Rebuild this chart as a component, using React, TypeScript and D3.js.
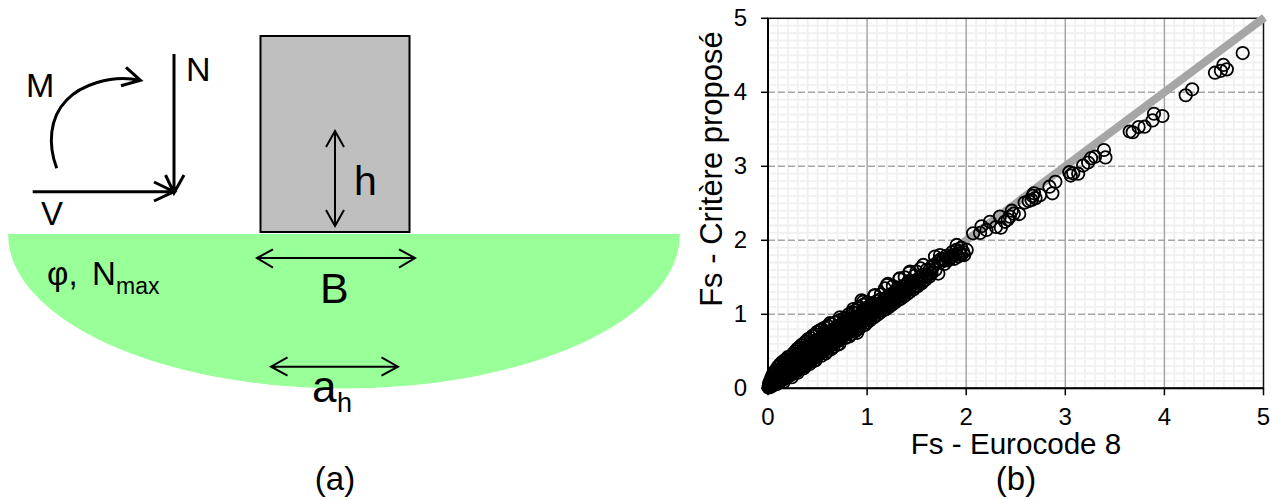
import React from "react";
import * as d3 from "d3";

const axisTicks = [0, 1, 2, 3, 4, 5];
const minorTicks = [
  0.1, 0.2, 0.3, 0.4, 0.5, 0.6, 0.7, 0.8, 0.9, 1.1, 1.2, 1.3, 1.4, 1.5, 1.6, 1.7, 1.8, 1.9, 2.1, 2.2, 2.3, 2.4, 2.5,
  2.6, 2.7, 2.8, 2.9, 3.1, 3.2, 3.3, 3.4, 3.5, 3.6, 3.7, 3.8, 3.9, 4.1, 4.2, 4.3, 4.4, 4.5, 4.6, 4.7, 4.8, 4.9,
];
const referenceLine: [number, number][] = [[0, 0], [5.01, 5.01]];

const upperPoints: [number, number][] = [
  [4.79, 4.53], [4.595, 4.37], [4.63, 4.31], [4.57, 4.29], [4.51, 4.265], [4.28, 4.04], [4.215, 3.96], [3.98, 3.68],
  [3.895, 3.71], [3.88, 3.62], [3.8, 3.535], [3.74, 3.53], [3.68, 3.46], [3.65, 3.47], [3.39, 3.22], [3.405, 3.12],
  [3.3, 3.13], [3.26, 3.11], [3.23, 3.05], [3.18, 3.01], [3.13, 2.9], [3.08, 2.905], [3.04, 2.92], [3.055, 2.875],
  [2.9, 2.79], [2.84, 2.725], [2.87, 2.635], [2.745, 2.61], [2.685, 2.635], [2.66, 2.545], [2.59, 2.51], [2.7, 2.57],
  [2.535, 2.355], [2.46, 2.4], [2.44, 2.32], [2.39, 2.25], [2.34, 2.32], [2.3, 2.18], [2.24, 2.25], [2.155, 2.19],
  [2.07, 2.095], [2.205, 2.14], [2.14, 2.1], [2.35, 2.17], [2.48, 2.36], [2.63, 2.53], [2.67, 2.6], [2.42, 2.28],
];

const middlePoints: [number, number][] = [
  [2.005, 1.87], [1.904, 1.937], [1.736, 1.8], [1.685, 1.78], [1.836, 1.755], [1.937, 1.824], [1.719, 1.55],
  [1.567, 1.667], [1.5, 1.577], [1.433, 1.577], [1.33, 1.486], [1.21, 1.41], [1.18, 1.35], [1.08, 1.26], [0.945, 1.19],
  [1.98, 1.8], [1.95, 1.9], [1.89, 1.8], [1.86, 1.84], [1.8, 1.79], [1.77, 1.74], [1.72, 1.72], [1.9, 1.87],
  [1.66, 1.66], [1.64, 1.56], [1.6, 1.6], [1.58, 1.5], [1.54, 1.62], [1.52, 1.47], [1.48, 1.52], [1.46, 1.4],
  [1.42, 1.45], [1.4, 1.32], [1.38, 1.5], [1.36, 1.38], [1.34, 1.25], [1.3, 1.33], [1.28, 1.21], [1.26, 1.38],
  [1.24, 1.27], [1.22, 1.15], [1.19, 1.22], [1.16, 1.1], [1.14, 1.27], [1.12, 1.05], [1.1, 1.18], [1.06, 1.0],
  [1.04, 1.13], [1.02, 0.95], [1.0, 1.16], [0.98, 1.05],
  [0.727, 0.96], [0.86, 1.07], [0.96, 1.17], [1.07, 1.25], [1.2, 1.395], [1.325, 1.477], [1.426, 1.56], [0.625, 0.88],
];

const lowerEdgePoints: [number, number][] = [
  [0.16, 0.09], [0.24, 0.15], [0.3, 0.21], [0.36, 0.27], [0.42, 0.33], [0.48, 0.38], [0.54, 0.44], [0.6, 0.5],
  [0.66, 0.56], [0.72, 0.6], [0.78, 0.68], [0.84, 0.73], [0.9, 0.79], [0.96, 0.85], [1.0, 0.89], [1.03, 0.92],
  [1.07, 0.96], [1.1, 0.99], [1.13, 1.02], [1.16, 1.05], [1.19, 1.07], [1.22, 1.1], [1.25, 1.13], [1.28, 1.16],
  [1.31, 1.19], [1.34, 1.21], [1.37, 1.24], [1.4, 1.27], [1.43, 1.3], [1.47, 1.34], [1.51, 1.38], [1.55, 1.42],
  [1.59, 1.47], [1.63, 1.51], [1.46, 1.36], [1.5, 1.44], [1.56, 1.53], [1.67, 1.65], [1.74, 1.7], [1.79, 1.73],
  [1.84, 1.78], [1.93, 1.85], [1.97, 1.84], [1.03, 1.02], [1.09, 1.08], [1.15, 1.16], [1.21, 1.24], [1.27, 1.29],
  [1.33, 1.32], [1.39, 1.4], [1.11, 1.12], [1.17, 1.2], [1.23, 1.19], [1.29, 1.26], [1.35, 1.29], [1.41, 1.36],
  [1.01, 1.03], [1.05, 1.08], [1.18, 1.13], [1.25, 1.24], [1.31, 1.36], [1.37, 1.33], [1.44, 1.4], [1.49, 1.46],
];

const densePoints: [number, number][] = [
  [0.005, 0.01], [0.01, 0.03], [0.01, 0.06], [0.015, 0.02], [0.02, 0.09], [0.02, 0.04], [0.03, 0.13], [0.03, 0.02],
  [0.035, 0.07], [0.04, 0.16], [0.04, 0.1], [0.05, 0.04], [0.05, 0.19], [0.055, 0.13], [0.06, 0.08], [0.065, 0.22],
  [0.07, 0.05], [0.075, 0.16], [0.08, 0.25], [0.085, 0.1], [0.09, 0.06], [0.095, 0.2], [0.1, 0.29], [0.105, 0.13],
  [0.11, 0.08], [0.115, 0.24], [0.12, 0.32], [0.125, 0.17], [0.13, 0.1], [0.135, 0.27], [0.14, 0.35], [0.145, 0.2],
  [0.15, 0.12], [0.155, 0.3], [0.16, 0.37], [0.165, 0.23], [0.17, 0.13], [0.175, 0.33], [0.18, 0.39], [0.185, 0.26],
  [0.19, 0.15], [0.195, 0.36], [0.2, 0.42], [0.205, 0.29], [0.21, 0.17], [0.215, 0.38], [0.22, 0.22], [0.225, 0.33],
  [0.23, 0.18], [0.235, 0.44], [0.24, 0.27], [0.245, 0.4], [0.25, 0.2], [0.255, 0.47], [0.26, 0.31], [0.265, 0.37],
  [0.27, 0.22], [0.275, 0.5], [0.28, 0.27], [0.285, 0.43], [0.29, 0.23], [0.295, 0.53], [0.3, 0.34], [0.305, 0.47],
  [0.31, 0.26], [0.315, 0.55], [0.32, 0.3], [0.325, 0.41], [0.33, 0.28], [0.335, 0.58], [0.34, 0.36], [0.345, 0.5],
  [0.35, 0.3], [0.355, 0.6], [0.36, 0.4], [0.365, 0.53], [0.37, 0.33], [0.375, 0.46], [0.38, 0.63], [0.385, 0.37],
  [0.39, 0.55], [0.395, 0.34], [0.4, 0.66], [0.405, 0.43], [0.41, 0.5], [0.415, 0.36], [0.42, 0.6], [0.425, 0.4],
  [0.43, 0.68], [0.435, 0.46], [0.44, 0.55], [0.445, 0.39], [0.45, 0.71], [0.455, 0.5], [0.46, 0.62], [0.465, 0.42],
  [0.47, 0.46], [0.475, 0.73], [0.48, 0.56], [0.485, 0.43], [0.49, 0.5], [0.495, 0.76], [0.5, 0.65], [0.505, 0.45],
  [0.51, 0.54], [0.515, 0.48], [0.52, 0.78], [0.525, 0.6], [0.53, 0.47], [0.535, 0.68], [0.54, 0.51], [0.545, 0.8],
  [0.55, 0.56], [0.555, 0.5], [0.56, 0.63], [0.565, 0.71], [0.57, 0.52], [0.575, 0.82], [0.58, 0.58], [0.585, 0.54],
  [0.59, 0.66], [0.595, 0.74], [0.6, 0.55], [0.605, 0.84], [0.61, 0.6], [0.615, 0.57], [0.62, 0.69], [0.625, 0.77],
  [0.63, 0.58], [0.635, 0.63], [0.64, 0.87], [0.645, 0.6], [0.65, 0.72], [0.655, 0.66], [0.66, 0.61], [0.665, 0.8],
  [0.67, 0.68], [0.675, 0.63], [0.68, 0.89], [0.685, 0.75], [0.69, 0.65], [0.695, 0.7], [0.7, 0.84], [0.705, 0.64],
  [0.71, 0.78], [0.715, 0.67], [0.72, 0.72], [0.725, 0.92], [0.73, 0.68], [0.735, 0.81], [0.74, 0.74], [0.745, 0.7],
  [0.75, 0.87], [0.755, 0.72], [0.76, 0.77], [0.765, 0.71], [0.77, 0.95], [0.775, 0.83], [0.78, 0.73], [0.785, 0.79],
  [0.79, 0.75], [0.795, 0.89], [0.8, 0.74], [0.805, 0.82], [0.81, 0.77], [0.815, 1.0], [0.82, 0.76], [0.825, 0.85],
  [0.83, 0.79], [0.835, 0.92], [0.84, 0.78], [0.845, 0.82], [0.85, 1.03], [0.855, 0.8], [0.86, 0.87], [0.865, 0.83],
  [0.87, 0.95], [0.875, 0.81], [0.88, 0.85], [0.885, 1.05], [0.89, 0.83], [0.895, 0.9], [0.9, 0.87], [0.905, 1.08],
  [0.91, 0.85], [0.915, 0.92], [0.92, 1.1], [0.925, 0.87], [0.93, 0.98], [0.935, 0.9], [0.94, 0.88], [0.95, 1.03],
  [0.955, 0.93], [0.96, 0.9], [0.965, 1.13], [0.97, 0.96], [0.975, 0.92],
  [0.12, 0.21], [0.18, 0.2], [0.22, 0.3], [0.26, 0.24], [0.3, 0.4], [0.34, 0.44], [0.38, 0.3], [0.42, 0.48],
  [0.46, 0.37], [0.5, 0.58], [0.54, 0.61], [0.58, 0.47], [0.62, 0.62], [0.66, 0.74], [0.7, 0.59], [0.74, 0.79],
  [0.78, 0.85], [0.82, 0.7], [0.86, 0.93], [0.9, 0.75], [0.94, 1.0], [0.98, 0.86], [0.56, 0.74], [0.6, 0.68],
  [0.64, 0.53], [0.68, 0.8], [0.72, 0.65], [0.76, 0.9], [0.8, 0.8], [0.84, 0.98], [0.88, 0.77], [0.92, 0.81],
];

const interiorPoints: [number, number][] = [
  [0.06, 0.11], [0.07, 0.12], [0.09, 0.15], [0.11, 0.19], [0.11, 0.12], [0.13, 0.14], [0.13, 0.23], [0.15, 0.18],
  [0.15, 0.26], [0.17, 0.21], [0.17, 0.28], [0.19, 0.24], [0.19, 0.31], [0.21, 0.22], [0.21, 0.33], [0.23, 0.27],
  [0.23, 0.35], [0.25, 0.28], [0.25, 0.37], [0.27, 0.3], [0.27, 0.41], [0.29, 0.33], [0.29, 0.44], [0.31, 0.36],
  [0.31, 0.46], [0.33, 0.38], [0.33, 0.48], [0.35, 0.38], [0.35, 0.45], [0.37, 0.43], [0.37, 0.55], [0.39, 0.4],
  [0.39, 0.47], [0.41, 0.42], [0.41, 0.57], [0.43, 0.44], [0.43, 0.52], [0.45, 0.45], [0.45, 0.58], [0.47, 0.5],
  [0.47, 0.64], [0.49, 0.47], [0.49, 0.6], [0.51, 0.49], [0.51, 0.62], [0.53, 0.55], [0.53, 0.66], [0.55, 0.53],
  [0.55, 0.68], [0.57, 0.6], [0.57, 0.72], [0.59, 0.56], [0.59, 0.7], [0.61, 0.63], [0.61, 0.76], [0.63, 0.61],
  [0.63, 0.72], [0.65, 0.63], [0.65, 0.78], [0.67, 0.64], [0.67, 0.75], [0.69, 0.68], [0.69, 0.82], [0.71, 0.69],
  [0.71, 0.76], [0.73, 0.7], [0.73, 0.85], [0.75, 0.74], [0.75, 0.8], [0.77, 0.74], [0.77, 0.84], [0.79, 0.78],
  [0.79, 0.92], [0.81, 0.8], [0.81, 0.87], [0.83, 0.82], [0.83, 0.9], [0.85, 0.84], [0.85, 0.95], [0.87, 0.86],
  [0.87, 0.91], [0.89, 0.87], [0.89, 0.97], [0.91, 0.88], [0.91, 1.02], [0.93, 0.92], [0.93, 0.95], [0.95, 0.9],
  [0.95, 0.98], [0.97, 1.0], [0.97, 1.07], [0.99, 0.94], [0.99, 1.0], [1.01, 0.97], [1.01, 1.1], [1.03, 0.99],
  [1.05, 1.03], [1.05, 1.15], [1.07, 1.05], [1.09, 1.02], [1.09, 1.13], [1.11, 1.06], [1.13, 1.09], [1.13, 1.2],
  [1.15, 1.1], [1.17, 1.13], [1.19, 1.16], [1.21, 1.12], [1.23, 1.25], [1.25, 1.2], [1.27, 1.19], [1.29, 1.22],
  [1.31, 1.28], [1.33, 1.26], [1.35, 1.34], [1.37, 1.31], [1.39, 1.3], [1.41, 1.42], [1.43, 1.37], [1.45, 1.44],
  [1.47, 1.42], [1.49, 1.38], [1.53, 1.45], [1.55, 1.52], [1.57, 1.45], [1.61, 1.53], [1.63, 1.6], [1.65, 1.55],
  [1.69, 1.6], [1.75, 1.75], [1.78, 1.68], [1.82, 1.73], [1.85, 1.77], [1.88, 1.75], [1.92, 1.78], [1.95, 1.8],
];

const pointSets = [densePoints, interiorPoints, lowerEdgePoints, middlePoints, upperPoints];

const W = 1272;
const H = 500;
const x = d3.scaleLinear().domain([0, 5]).range([768, 1263.5]);
const y = d3.scaleLinear().domain([0, 5]).range([388.3, 18.3]);
const lineGen = d3.line<[number, number]>().x((d) => x(d[0])).y((d) => y(d[1]));
const FONT = "'Liberation Sans', Arial, sans-serif";

function Arrow({ d, w }: { d: string; w: number }) {
  return <path d={d} fill="none" stroke="#000" strokeWidth={w} strokeLinecap="butt" strokeLinejoin="miter" />;
}

export default function App() {
  return (
    <svg
      width={W}
      height={H}
      viewBox={`0 0 ${W} ${H}`}
      style={{ position: "absolute", left: 0, top: 0, background: "#fff" }}
      fontFamily={FONT}
    >
      {/* Panel (a) */}
      <path d="M8,234 A336,154.5 0 0 0 680,234 Z" fill="#99ff99" />
      <rect x={260.5} y={36} width={149} height={196} fill="#bfbfbf" stroke="#000" strokeWidth={2} />
      <Arrow d="M174,54 V193 M165.5,175 L174,193 L184,175" w={3} />
      <Arrow d="M32.7,191.7 H174 M154,182 L174,191.7 L154,201" w={3} />
      <Arrow d="M56.7,168.3 C48,145 49,118 66.7,100 C80,86 110,74 140,80.3 M126,67.3 L140.5,80.3 L121,85.7" w={3} />
      <Arrow d="M335,131 V226 M326,147 L335,131 L344,147 M326,210 L335,226 L344,210" w={2} />
      <Arrow d="M257,258 H415 M273,249.3 L257,258 L273,267.7 M399,249.3 L415,258 L399,267.7" w={2} />
      <Arrow d="M271,366.7 H398 M287.5,357.3 L271,366.7 L287.5,375.7 M381.5,357.3 L398,366.7 L381.5,375.7" w={2} />
      <text x={26} y={97} fontSize={34}>M</text>
      <text x={186} y={81} fontSize={34}>N</text>
      <text x={41} y={225} fontSize={33}>V</text>
      <text x={354} y={195} fontSize={41}>h</text>
      <text x={47} y={285} fontSize={33}>φ,</text>
      <text x={92} y={285} fontSize={33}>N</text>
      <text x={116} y={294} fontSize={23}>max</text>
      <text x={320} y={303} fontSize={43}>B</text>
      <text x={312} y={402} fontSize={44}>a</text>
      <text x={337} y={412} fontSize={27}>h</text>
      <text x={335} y={490} fontSize={33} textAnchor="middle">(a)</text>

      {/* Panel (b) */}
      <g stroke="#f0f0f0" strokeWidth={1.8}>
        {minorTicks.map((t) => (
          <line key={`mx${t}`} x1={x(t)} x2={x(t)} y1={y(0)} y2={y(5)} />
        ))}
        {minorTicks.map((t) => (
          <line key={`my${t}`} x1={x(0)} x2={x(5)} y1={y(t)} y2={y(t)} />
        ))}
      </g>
      <g stroke="#a6a6a6" strokeWidth={1.5}>
        {axisTicks.slice(1, 5).map((t) => (
          <line key={`gx${t}`} x1={x(t)} x2={x(t)} y1={y(0)} y2={y(5)} />
        ))}
        {axisTicks.slice(1, 5).map((t) => (
          <line key={`gy${t}`} x1={x(0)} x2={x(5)} y1={y(t)} y2={y(t)} strokeDasharray="7 3" />
        ))}
      </g>
      <rect
        x={x(0)}
        y={y(5)}
        width={x(5) - x(0)}
        height={y(0) - y(5)}
        fill="none"
        stroke="#111"
        strokeWidth={1.5}
      />
      <g stroke="#000" strokeWidth={2}>
        <line x1={x(0)} x2={x(0)} y1={y(0)} y2={y(5)} />
        <line x1={x(0)} x2={x(5)} y1={y(0)} y2={y(0)} />
      </g>
      <g stroke="#000" strokeWidth={1.5}>
        {axisTicks.map((t) => (
          <line key={`tx${t}`} x1={x(t)} x2={x(t)} y1={y(0)} y2={y(0) + 7} />
        ))}
        {axisTicks.map((t) => (
          <line key={`ty${t}`} x1={x(0) - 7} x2={x(0)} y1={y(t)} y2={y(t)} />
        ))}
      </g>
      <path d={lineGen(referenceLine) ?? ""} fill="none" stroke="#a6a6a6" strokeWidth={8} />
      <g fill="none" stroke="#000" strokeWidth={1.8}>
        {pointSets.flat().map((p, i) => (
          <circle key={i} cx={x(p[0])} cy={y(p[1])} r={6.2} />
        ))}
      </g>
      <g fontSize={24} fill="#000">
        {axisTicks.map((t) => (
          <text key={`lx${t}`} x={x(t)} y={425} textAnchor="middle">{t}</text>
        ))}
        {axisTicks.map((t) => (
          <text key={`ly${t}`} x={747} y={y(t) + 8} textAnchor="end">{t}</text>
        ))}
      </g>
      <text x={1016} y={454} fontSize={29.6} textAnchor="middle">Fs - Eurocode 8</text>
      <text x={1016} y={490} fontSize={33} textAnchor="middle">(b)</text>
      <text transform="translate(722,169) rotate(-90)" fontSize={31} textAnchor="middle">Fs - Critère proposé</text>
    </svg>
  );
}
